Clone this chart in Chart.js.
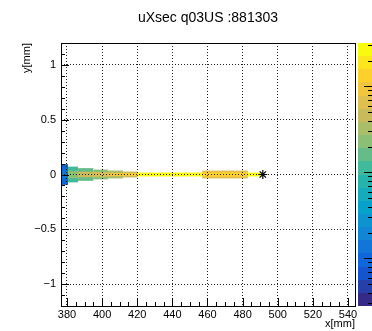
<!DOCTYPE html>
<html>
<head>
<meta charset="utf-8">
<script src="https://cdn.jsdelivr.net/npm/chart.js@4.4.1/dist/chart.umd.min.js"></script>
<style>
  html, body { margin: 0; padding: 0; background: #fff; }
  #wrap { width: 372px; height: 331px; position: relative; }
</style>
</head>
<body>
<div id="wrap"><canvas id="c"></canvas></div>
<script>
"use strict";
// ROOT-style colz histogram of the beam track, redrawn with Chart.js.

const TITLE = "uXsec q03US :881303";
const X_LABEL = "x[mm]";
const Y_LABEL = "y[mm]";

const xRange = [376.6, 544];
const yRange = [-1.2, 1.2];
const zRange = [2.8, 3200];          // palette (log z)
const xTicks = [380, 400, 420, 440, 460, 480, 500, 520, 540];
const yTicks = [-1, -0.5, 0, 0.5, 1];

// histogram bands along the track: x span, half height in y, bin content
const cellX0    = [376.6, 376.6, 380.6, 380.6, 386.3, 386.3, 395.0, 395.0, 403.4, 403.4, 412.0, 412.0, 420.0, 457.0, 457.0, 483.0];
const cellX1    = [380.6, 380.6, 386.3, 386.3, 395.0, 395.0, 403.4, 403.4, 412.0, 412.0, 420.0, 420.0, 457.0, 483.0, 483.0, 491.5];
const cellHalfY = [0.095, 0.040, 0.072, 0.035, 0.058, 0.025, 0.045, 0.020, 0.036, 0.015, 0.027, 0.012, 0.018, 0.036, 0.020, 0.018];
const cellZ     = [9,     14,    120,   260,   180,   400,   220,   700,   280,   1000,  400,   1500,  2300,  650,   1500,  2300];

const endPoint = [{ x: 491.5, y: 0 }];

const FONT = '"Liberation Sans", Arial, Helvetica, sans-serif';
const N_LEVELS = 20;
// ROOT kBird palette stops
const BIRD = [[53,42,135],[15,92,221],[20,129,214],[6,164,202],[46,183,164],
              [135,191,119],[209,187,89],[254,200,50],[249,251,14]];
function bird(t) {
  t = Math.max(0, Math.min(1, t));
  const s = t * 8, i = Math.min(7, Math.floor(s)), f = s - i;
  const a = BIRD[i], b = BIRD[i + 1];
  return `rgb(${a.map((v, k) => Math.round(v + (b[k] - v) * f)).join(",")})`;
}
function levelColor(zs, z) {
  const t = (zs.bottom - zs.getPixelForValue(z)) / (zs.bottom - zs.top);
  const k = Math.max(0, Math.min(N_LEVELS - 1, Math.floor(t * N_LEVELS)));
  return bird(k / (N_LEVELS - 1));
}

const colz = {
  id: "colz",
  beforeDraw(chart) {
    const { ctx, chartArea: a, scales: { x, y, z } } = chart;
    ctx.save();
    ctx.beginPath();
    ctx.rect(a.left, a.top, a.right - a.left, a.bottom - a.top);
    ctx.clip();
    for (let i = 0; i < cellZ.length; i++) {
      const x0 = x.getPixelForValue(cellX0[i]), x1 = x.getPixelForValue(cellX1[i]);
      const y0 = y.getPixelForValue(cellHalfY[i]), y1 = y.getPixelForValue(-cellHalfY[i]);
      ctx.fillStyle = levelColor(z, cellZ[i]);
      ctx.fillRect(x0, y0, x1 - x0, y1 - y0);
    }
    ctx.restore();
  },
  afterDraw(chart) {
    const { ctx, chartArea: a, scales: { x, y, z } } = chart;
    ctx.save();
    // palette
    const px0 = a.right + 3, px1 = chart.width;
    for (let k = 0; k < N_LEVELS; k++) {
      const yb = z.bottom - (z.bottom - z.top) * k / N_LEVELS;
      const yt = z.bottom - (z.bottom - z.top) * (k + 1) / N_LEVELS;
      ctx.fillStyle = bird(k / (N_LEVELS - 1));
      ctx.fillRect(px0, Math.round(yt), px1 - px0, Math.round(yb) - Math.round(yt));
    }
    ctx.strokeStyle = "#000";
    ctx.lineWidth = 1;
    ctx.beginPath();
    for (let e = -1; e <= 4; e++) {
      for (let m = 1; m <= 9; m++) {
        const v = m * Math.pow(10, e);
        if (v < zRange[0] || v > zRange[1]) continue;
        const py = Math.round(z.getPixelForValue(v)) + 0.5;
        const len = m === 1 ? 8 : 4;
        ctx.moveTo(px1 - len, py); ctx.lineTo(px1, py);
      }
    }
    ctx.stroke();
    // frame
    ctx.strokeStyle = "#000";
    ctx.strokeRect(Math.round(a.left) + 0.5, Math.round(a.top) + 0.5,
                   Math.round(a.right - a.left), Math.round(a.bottom - a.top));
    // inward ticks, bottom and left only
    ctx.beginPath();
    for (let v = 380; v <= xRange[1]; v += 5) {
      const px = Math.round(x.getPixelForValue(v)) + 0.5;
      const len = xTicks.includes(v) ? 8 : 4;
      ctx.moveTo(px, a.bottom); ctx.lineTo(px, a.bottom - len);
    }
    for (let i = -11; i <= 11; i++) {
      const v = i / 10;
      const py = Math.round(y.getPixelForValue(v)) + 0.5;
      const len = i % 5 === 0 ? 8 : 4;
      ctx.moveTo(a.left, py); ctx.lineTo(a.left + len, py);
    }
    ctx.stroke();
    ctx.restore();
  }
};

const gridStyle = { color: "#222", lineWidth: 1, drawTicks: false };

new Chart(document.getElementById("c"), {
  type: "scatter",
  data: {
    datasets: [{
      data: endPoint, xAxisID: "x", yAxisID: "y",
      pointStyle: "star", pointRadius: 4.5, borderColor: "#000",
      backgroundColor: "#000", borderWidth: 1.2,
    }],
  },
  options: {
    responsive: true, maintainAspectRatio: false, animation: false,
    layout: { padding: 0 },
    scales: {
      x: {
        type: "linear", min: xRange[0], max: xRange[1],
        afterBuildTicks: (s) => { s.ticks = xTicks.map(v => ({ value: v })); },
        afterFit: (s) => { s.height = 25; },
        ticks: { font: { family: FONT, size: 11 }, color: "#000", padding: 2, maxRotation: 0 },
        grid: gridStyle, border: { display: false, dash: [1, 2] },
        title: { display: true, text: X_LABEL, align: "end", color: "#000",
                 font: { family: FONT, size: 11 }, padding: { top: 0, bottom: 0 } },
      },
      y: {
        type: "linear", min: yRange[0], max: yRange[1],
        afterBuildTicks: (s) => { s.ticks = yTicks.map(v => ({ value: v })); },
        afterFit: (s) => { s.width = 61; },
        ticks: { font: { family: FONT, size: 11 }, color: "#000", padding: 5,
                 callback: (v) => v < 0 ? "\u2212" + Math.abs(v) : String(v) },
        grid: gridStyle, border: { display: false, dash: [1, 2] },
        title: { display: true, text: Y_LABEL, align: "end", color: "#000",
                 font: { family: FONT, size: 11 }, padding: { top: 20, bottom: 0 } },
      },
      z: {
        axis: "y", type: "logarithmic", position: "right", min: zRange[0], max: zRange[1],
        afterFit: (s) => { s.width = 17; },
        ticks: { display: false }, grid: { display: false, drawTicks: false },
        border: { display: false },
      },
    },
    plugins: {
      legend: { display: false },
      tooltip: { enabled: false },
      title: { display: true, text: TITLE, color: "#000", fullSize: false,
               font: { family: FONT, size: 14, weight: "normal" },
               padding: { top: 9.6, bottom: 16.6 } },
    },
  },
  plugins: [colz],
});
</script>
</body>
</html>
